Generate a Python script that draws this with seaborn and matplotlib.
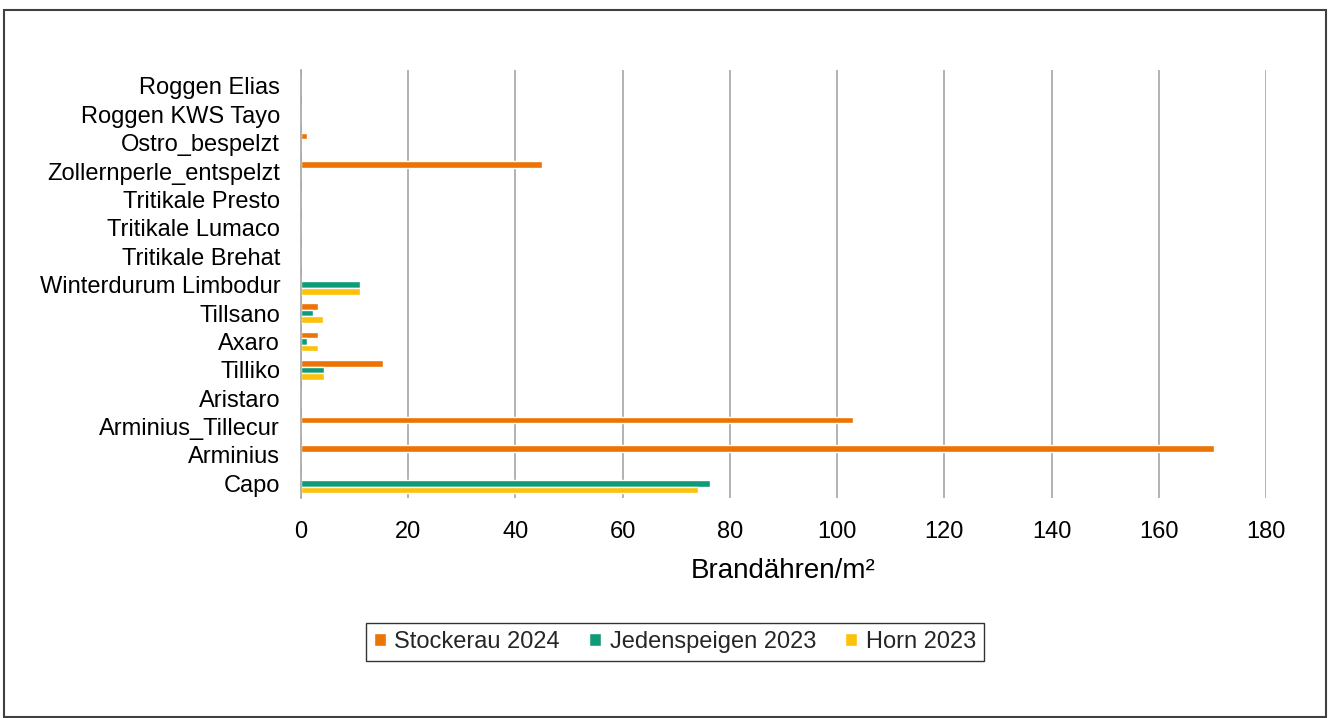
import pandas as pd
import matplotlib
matplotlib.use("Agg")
import matplotlib.pyplot as plt
from matplotlib.patches import Rectangle
import seaborn as sns

# data (Brandähren/m², 0 where no bar)
varieties = ['Roggen Elias', 'Roggen KWS Tayo', 'Ostro_bespelzt', 'Zollernperle_entspelzt',
             'Tritikale Presto', 'Tritikale Lumaco', 'Tritikale Brehat', 'Winterdurum Limbodur',
             'Tillsano', 'Axaro', 'Tilliko', 'Aristaro', 'Arminius_Tillecur', 'Arminius', 'Capo']
stockerau_2024 = [0, 0, 1.1, 45, 0, 0, 0, 0, 3.2, 3.2, 15.3, 0, 103, 170.3, 0]
jedenspeigen_2023 = [0, 0, 0, 0, 0, 0, 0, 11, 2.2, 1.1, 4.3, 0, 0, 0, 76.2]
horn_2023 = [0, 0, 0, 0, 0, 0, 0, 11, 4.1, 3.2, 4.3, 0, 0, 0, 74.1]

series_names = ['Stockerau 2024', 'Jedenspeigen 2023', 'Horn 2023']
series_colors = ['#EC7405', '#0F9B78', '#FCC20A']

frames = []
for name, vals in zip(series_names, [stockerau_2024, jedenspeigen_2023, horn_2023]):
    frames.append(pd.DataFrame({'Sorte': varieties, 'Wert': vals, 'Standort': name}))
df = pd.concat(frames, ignore_index=True)

sns.set_theme(style='white')
plt.rcParams['font.family'] = ['Liberation Sans', 'DejaVu Sans']

fig = plt.figure(figsize=(13.33, 7.18), dpi=100)
ax = fig.add_axes([0.2258, 0.307, 0.724, 0.595])

sns.barplot(data=df, y='Sorte', x='Wert', hue='Standort', order=varieties,
            hue_order=series_names, palette=series_colors, orient='h',
            width=0.7, gap=0, saturation=1, errorbar=None, ax=ax, legend=True)

ax.set_xlim(0, 180)
ax.set_ylim(len(varieties) - 0.5, -0.55)
ax.set_xticks(range(0, 181, 20))
ax.xaxis.grid(True, color='#A6A6A6', linewidth=1.2)
ax.set_axisbelow(True)
for side in ['top', 'right', 'bottom']:
    ax.spines[side].set_visible(False)
ax.spines['left'].set_color('#A6A6A6')
ax.spines['left'].set_linewidth(1.2)
ax.tick_params(axis='both', length=0, labelsize=17, colors='#000000')
ax.tick_params(axis='x', pad=17)
ax.tick_params(axis='y', pad=15)
ax.set_ylabel('')
ax.set_xlabel('Brandähren/m²', fontsize=20, color='#000000', labelpad=11)

handles, labels = ax.get_legend_handles_labels()
ax.get_legend().remove()
leg = fig.legend(handles, labels, loc='center', bbox_to_anchor=(0.5064, 0.106), ncol=3,
                 frameon=True, fancybox=False, fontsize=17, handlelength=0.5,
                 handleheight=0.5, handletextpad=0.35, columnspacing=1.25,
                 borderpad=0.34)
leg.get_frame().set_edgecolor('#000000')
leg.get_frame().set_linewidth(1.0)

# outer border of the chart
fig.patches.append(Rectangle((0.003, 0.001), 0.992, 0.985, transform=fig.transFigure,
                             fill=False, edgecolor='#404040', linewidth=1.5))

fig.savefig('out.png', dpi=100)
